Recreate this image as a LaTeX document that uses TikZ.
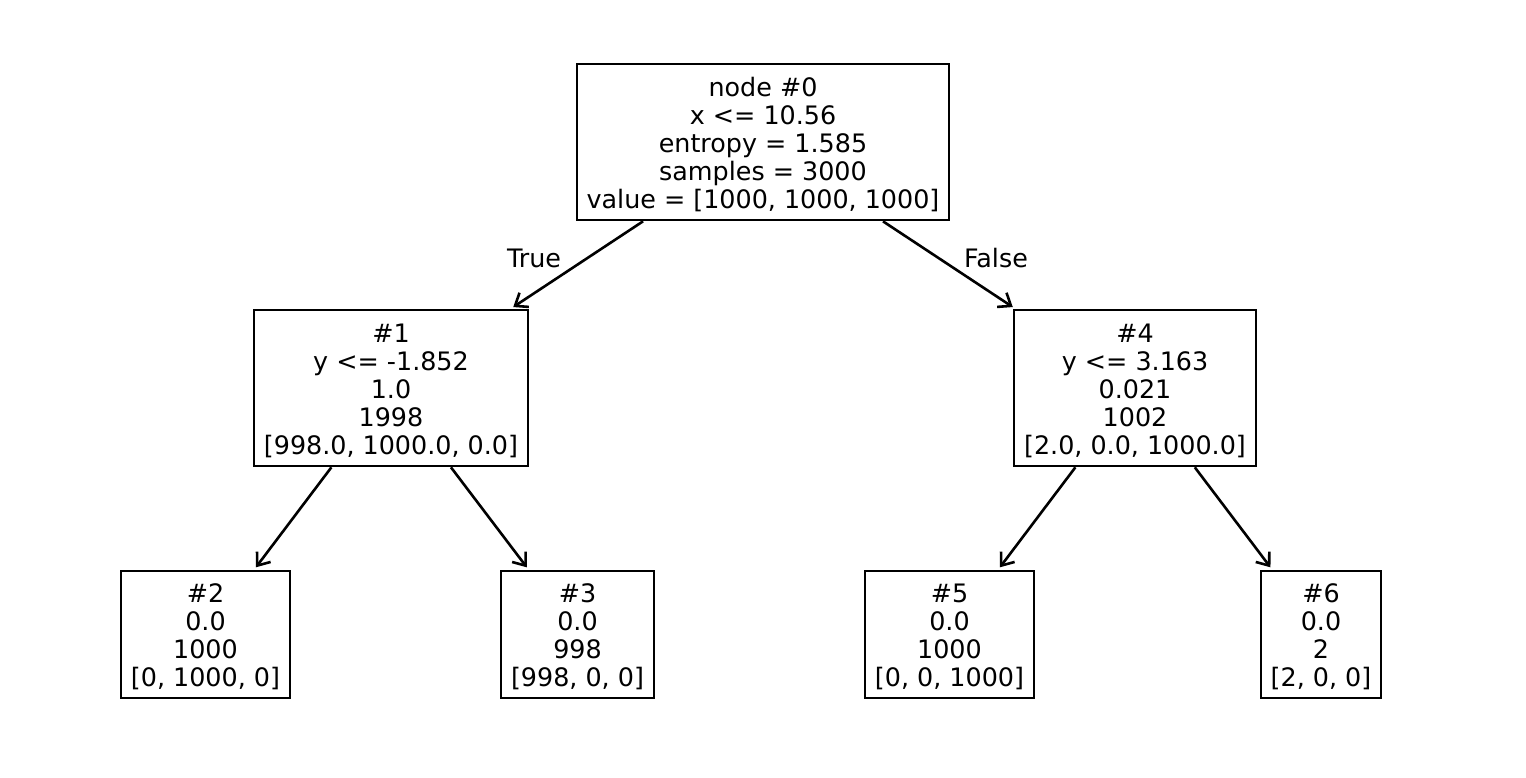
\documentclass[tikz,border=0pt]{standalone}
\usepackage{fontspec}
\setmainfont{DejaVu Sans}
\usetikzlibrary{arrows.meta}
\newcommand{\topstrut}{\rule{0pt}{24pt}}
\begin{document}
\begin{tikzpicture}[x=1pt,y=-1pt,
  treebox/.style={draw=black, line width=2.6pt, inner sep=0pt, align=center,
    font=\fontsize{25.4}{28}\selectfont, text=black},
  edgelabel/.style={font=\fontsize{25.4}{28}\selectfont, inner sep=0pt},
  link/.style={line width=2.6pt, shorten >=3pt,
    -{Straight Barb[length=11pt,width=17pt,line width=2.6pt]}}]
\useasboundingbox (0,0) rectangle (1526,777);
\node[treebox, minimum width=372pt, minimum height=156pt] (n0) at (763,142)
  {\topstrut node \#0\\x <= 10.56\\entropy = 1.585\\samples = 3000\\value = [1000, 1000, 1000]};
\node[treebox, minimum width=274pt, minimum height=156pt] (n1) at (391,388)
  {\topstrut\#1\\y <= -1.852\\1.0\\1998\\{[}998.0, 1000.0, 0.0]};
\node[treebox, minimum width=242pt, minimum height=156pt] (n4) at (1135,388)
  {\topstrut\#4\\y <= 3.163\\0.021\\1002\\{[}2.0, 0.0, 1000.0]};
\node[treebox, minimum width=169pt, minimum height=127pt] (n2) at (205.5,634.5)
  {\topstrut\#2\\0.0\\1000\\{[}0, 1000, 0]};
\node[treebox, minimum width=153pt, minimum height=127pt] (n3) at (577.5,634.5)
  {\topstrut\#3\\0.0\\998\\{[}998, 0, 0]};
\node[treebox, minimum width=169pt, minimum height=127pt] (n5) at (949.5,634.5)
  {\topstrut\#5\\0.0\\1000\\{[}0, 0, 1000]};
\node[treebox, minimum width=120pt, minimum height=127pt] (n6) at (1321,634.5)
  {\topstrut\#6\\0.0\\2\\{[}2, 0, 0]};
\draw[link] (n0) -- (n1);
\draw[link] (n0) -- (n4);
\draw[link] (n1) -- (n2);
\draw[link] (n1) -- (n3);
\draw[link] (n4) -- (n5);
\draw[link] (n4) -- (n6);
\node[edgelabel] (ltrue) at (534,258) {True};
\node[edgelabel] (lfalse) at (996,258) {False};
\end{tikzpicture}
\end{document}
